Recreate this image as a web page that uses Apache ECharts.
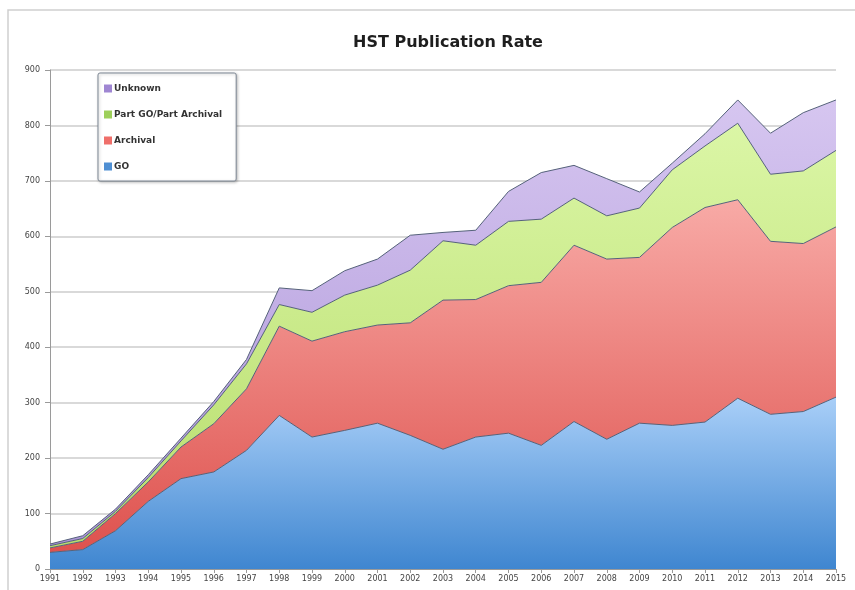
<!DOCTYPE html>
<html>
<head>
<meta charset="utf-8">
<script src="https://cdn.jsdelivr.net/npm/echarts@6/dist/echarts.min.js"></script>
<style>
  html, body { margin: 0; padding: 0; background: #fff; }
  #chart { width: 855px; height: 590px; }
</style>
</head>
<body>
<div id="chart"></div>
<script>
const years = ['1991','1992','1993','1994','1995','1996','1997','1998','1999','2000','2001','2002','2003',
  '2004','2005','2006','2007','2008','2009','2010','2011','2012','2013','2014','2015']

// 出版物数量 (按类别堆叠)
const goData       = [30, 35, 69, 122, 163, 175, 214, 277, 238, 250, 263, 241, 216, 238, 245, 223, 266, 234, 263, 259, 265, 308, 279, 284, 310]
const archivalData = [8, 15, 31, 35, 57, 87, 111, 161, 173, 178, 177, 203, 269, 248, 266, 294, 318, 325, 299, 357, 387, 358, 312, 303, 307]
const partData     = [4, 5, 4, 8, 11, 34, 45, 39, 52, 66, 72, 95, 107, 98, 116, 114, 85, 78, 89, 104, 111, 138, 121, 131, 138]
const unknownData  = [3, 5, 4, 5, 5, 6, 8, 30, 39, 44, 47, 63, 15, 27, 54, 84, 59, 67, 29, 12, 22, 42, 74, 105, 91]

const legendOrder = ['Unknown', 'Part GO/Part Archival', 'Archival', 'GO']

const grad = (top, bottom) => new echarts.graphic.LinearGradient(0, 0, 0, 1, [
  { offset: 0, color: top },
  { offset: 1, color: bottom }
])

const makeSeries = (name, data, top, bottom, icon) => ({
  name,
  type: 'line',
  stack: 'total',
  data,
  symbol: 'none',
  lineStyle: { color: '#55627a', width: 1 },
  itemStyle: { color: icon },
  areaStyle: { color: grad(top, bottom), opacity: 1 },
  emphasis: { disabled: true }
})

const chart = echarts.init(document.getElementById('chart'))

const option = {
  animation: false,
  backgroundColor: '#fff',
  graphic: [{
    type: 'rect',
    shape: { x: 8, y: 10, width: 1000, height: 700 },
    style: { fill: 'none', stroke: '#cfcfcf', lineWidth: 1.5 }
  }],
  title: {
    text: 'HST Publication Rate',
    left: 443,
    top: 30,
    textAlign: 'center',
    textStyle: { fontFamily: 'DejaVu Sans', fontWeight: 'bold', fontSize: 16, color: '#1e1e1e' }
  },
  legend: {
    data: legendOrder,
    orient: 'vertical',
    left: 98,
    top: 73,
    padding: [11, 14, 10, 6],
    itemGap: 17,
    itemWidth: 8,
    itemHeight: 8,
    icon: 'rect',
    backgroundColor: '#fff',
    borderColor: '#7d8794',
    borderWidth: 1,
    borderRadius: 2,
    shadowColor: 'rgba(0,0,0,0.25)',
    shadowBlur: 3,
    shadowOffsetX: 1,
    shadowOffsetY: 1,
    textStyle: { fontFamily: 'DejaVu Sans', fontSize: 9, fontWeight: 'bold', color: '#333', padding: [0, 0, 0, -3] }
  },
  grid: {
    left: 50,
    right: 19,
    top: 70,
    bottom: 21
  },
  xAxis: {
    type: 'category',
    boundaryGap: false,
    data: years,
    axisLine: { lineStyle: { color: '#9a9a9a' } },
    axisTick: { show: true, length: 4, lineStyle: { color: '#9a9a9a' } },
    axisLabel: { fontFamily: 'DejaVu Sans', fontSize: 8, color: '#444', margin: 6, interval: 0 }
  },
  yAxis: {
    type: 'value',
    min: 0,
    max: 900,
    interval: 100,
    axisLine: { show: true, lineStyle: { color: '#9a9a9a' } },
    axisTick: { show: true, length: 5, lineStyle: { color: '#9a9a9a' } },
    axisLabel: { fontFamily: 'DejaVu Sans', fontSize: 8, color: '#444', margin: 10 },
    splitLine: { lineStyle: { color: '#cdcdcd', width: 1.5 } }
  },
  series: [
    makeSeries('GO', goData, '#a9cff8', '#3f86d0', '#4f8fd3'),
    makeSeries('Archival', archivalData, '#f8aaa6', '#de524e', '#ef6f6a'),
    makeSeries('Part GO/Part Archival', partData, '#dbf6a6', '#b7dd6c', '#9dcf5a'),
    makeSeries('Unknown', unknownData, '#d6c6f0', '#ac94d8', '#9f86d2')
  ]
}

chart.setOption(option)

window.addEventListener('resize', () => {
  chart?.resize()
})
</script>
</body>
</html>
